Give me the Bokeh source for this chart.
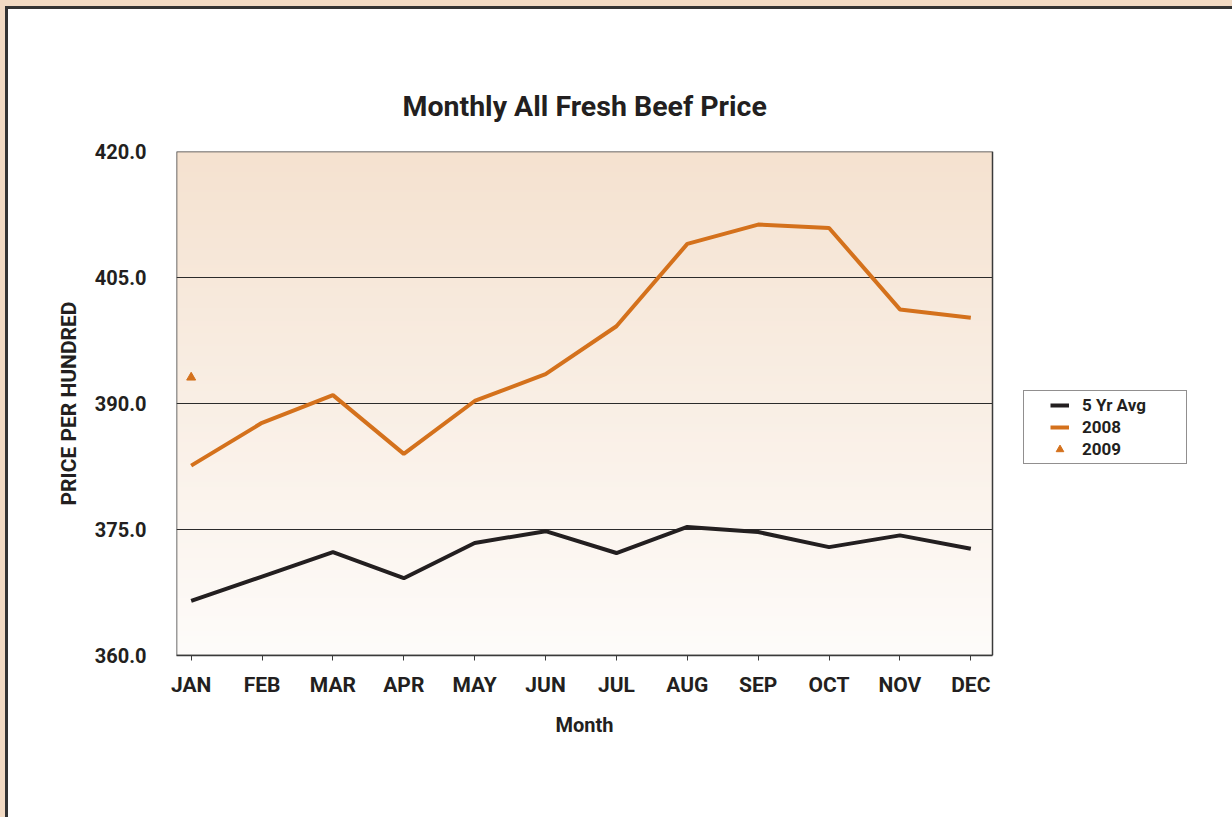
import numpy as np
from bokeh.plotting import figure
from bokeh.models import (FixedTicker, PrintfTickFormatter, Legend, LegendItem, Range1d,
                          BoxAnnotation, Title)
from bokeh.embed import file_html
from bokeh.resources import INLINE

months = ["JAN", "FEB", "MAR", "APR", "MAY", "JUN", "JUL", "AUG", "SEP", "OCT", "NOV", "DEC"]
avg5 = [366.5, 369.4, 372.3, 369.2, 373.4, 374.8, 372.2, 375.3, 374.7, 372.9, 374.3, 372.7]
y2008 = [382.6, 387.7, 391.0, 384.0, 390.3, 393.5, 399.2, 409.0, 411.3, 410.9, 401.2, 400.2]
y2009 = [393.1]
y_ticks = [360, 375, 390, 405, 420]

FONT = "Roboto"
TXT = "#231f20"
ORANGE = "#d4711c"
EDGE = "#3a3a3a"

xs = list(range(len(months)))
# plotted data area (months axis) and the wider drawing frame that also holds the legend
x0, x1 = -0.207, 11.306
y0, y1 = 360, 420
AREA_W = 816                      # px width of the plotted area
FRAME_W = 1034                    # px width of the full frame (area + legend room)
x_view_end = x0 + (x1 - x0) * FRAME_W / AREA_W

p = figure(width=1232, height=817, output_backend="svg", toolbar_location=None,
           x_range=Range1d(x0, x_view_end), y_range=Range1d(y0, y1),
           min_border_left=176, min_border_right=1232 - 176 - FRAME_W,
           min_border_top=151, min_border_bottom=162,
           background_fill_color="white", border_fill_color=None)
p.styles = {"background-color": "white",
            "box-shadow": "inset 5px 6px 0 0 #f2dac3, inset 8px 9px 0 0 #333333"}
p.outline_line_color = None

# gradient background of the plotted area
n = 200
t = np.linspace(0, 1, n)[:, None]
top = np.array([245, 226, 208])
bot = np.array([254, 252, 250])
cols = (bot * (1 - t) + top * t).astype(np.uint32)
img = (255 << 24) | (cols[:, 2] << 16) | (cols[:, 1] << 8) | cols[:, 0]
img = img.reshape(n, 1)
p.image_rgba(image=[img], x=x0, y=y0, dw=x1 - x0, dh=y1 - y0, level="image")

# horizontal grid lines limited to the plotted area
inner = y_ticks[1:-1]
p.segment(x0=[x0] * len(inner), y0=inner, x1=[x1] * len(inner), y1=inner,
          line_color="#2b2b2b", line_width=1, level="underlay")
p.add_layout(BoxAnnotation(left=x0, right=x1, bottom=y0, top=y1,
                           fill_alpha=0, line_color=EDGE, line_alpha=1.0, line_width=1.5))

p.title.text = "Monthly All Fresh Beef Price"
p.title.align = "left"
p.title.offset = 226
p.title.text_font = FONT
p.title.text_font_size = "28.5px"
p.title.text_font_style = "bold"
p.title.text_color = TXT
p.title.standoff = 58

p.xgrid.visible = False
p.ygrid.visible = False

# y axis
ya = p.yaxis[0]
ya.ticker = FixedTicker(ticks=y_ticks)
ya.formatter = PrintfTickFormatter(format="%.1f")
ya.axis_line_color = None
ya.major_tick_line_color = None
ya.minor_tick_line_color = None
ya.major_label_standoff = 24
ya.major_label_text_font = FONT
ya.major_label_text_font_size = "20px"
ya.major_label_text_font_style = "bold"
ya.major_label_text_color = TXT
ya.axis_label = "PRICE PER HUNDRED"
ya.axis_label_text_font = FONT
ya.axis_label_text_font_size = "21px"
ya.axis_label_text_font_style = "bold"
ya.axis_label_text_color = TXT
ya.axis_label_standoff = 11

# x axis
xa = p.xaxis[0]
xa.bounds = (x0, x1)
xa.ticker = FixedTicker(ticks=xs)
xa.major_label_overrides = {i: m for i, m in enumerate(months)}
xa.axis_line_color = EDGE
xa.axis_line_width = 1.5
xa.major_tick_line_color = EDGE
xa.major_tick_out = 5
xa.major_tick_in = 0
xa.minor_tick_line_color = None
xa.major_label_standoff = 12
xa.major_label_text_font = FONT
xa.major_label_text_font_size = "21px"
xa.major_label_text_font_style = "bold"
xa.major_label_text_color = TXT

# x axis title, centred under the plotted area
p.add_layout(Title(text="Month", align="left", offset=555 - 176, standoff=22,
                   text_font=FONT, text_font_size="20px", text_font_style="bold",
                   text_color=TXT), "below")

r_avg = p.line(xs, avg5, line_color=TXT, line_width=4)
r_08 = p.line(xs, y2008, line_color=ORANGE, line_width=4)
r_09 = p.scatter(xs[:len(y2009)], y2009, marker="triangle", size=9,
                 fill_color=ORANGE, line_color=ORANGE)

legend = Legend(items=[LegendItem(label="5 Yr Avg", renderers=[r_avg]),
                       LegendItem(label="2008", renderers=[r_08]),
                       LegendItem(label="2009", renderers=[r_09])],
                location=(847, 191), orientation="vertical",
                padding=4, margin=0, spacing=2,
                glyph_width=19, glyph_height=20, label_height=20, label_width=100,
                label_standoff=13,
                title=" ", title_location="left", title_text_font_size="12px",
                title_standoff=8,
                label_text_font=FONT, label_text_font_size="17px",
                label_text_font_style="bold", label_text_color=TXT,
                border_line_color="#231f20", border_line_width=1.5,
                background_fill_color="white", background_fill_alpha=1.0)
p.add_layout(legend)

open("out.html", "w").write(file_html(p, INLINE))
